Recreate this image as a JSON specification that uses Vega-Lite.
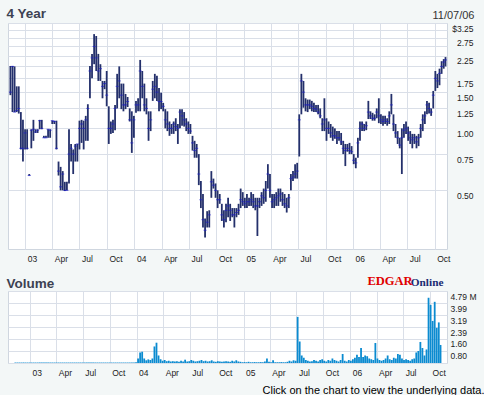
{
 "$schema": "https://vega.github.io/schema/vega-lite/v6.json",
 "background": "#f3f7f7",
 "autosize": {"type": "pad"},
 "padding": {"left": 5, "top": 6, "right": 0, "bottom": 0},
 "spacing": 10,
 "config": {
  "font": "Liberation Sans",
  "view": {"fill": "white", "stroke": "#cfd6df", "strokeWidth": 1},
  "axis": {"gridColor": "#dadfe8", "gridWidth": 1, "gridOpacity": 1, "domain": false, "ticks": false, "tickSize": 0, "labelFont": "Liberation Sans", "labelFontSize": 8.5, "labelColor": "#222222", "titleFont": "Liberation Sans"}
 },
 "datasets": {
  "px": [
   {"d":"2002-11-12","lo":1.45,"hi":2.01,"c":1.5,"v":0.03},
   {"d":"2002-11-19","lo":1.2,"hi":2.01,"c":2.0,"v":0.03},
   {"d":"2002-11-26","lo":1.2,"hi":2.0,"c":1.2,"v":0.03},
   {"d":"2002-12-03","lo":1.2,"hi":1.6,"c":1.22,"v":0.03},
   {"d":"2002-12-10","lo":1.18,"hi":1.6,"c":1.25,"v":0.03},
   {"d":"2002-12-17","lo":0.79,"hi":1.2,"c":0.8,"v":0.03},
   {"d":"2002-12-24","lo":0.69,"hi":1.1,"c":0.8,"v":0.03},
   {"d":"2002-12-31","lo":0.79,"hi":0.99,"c":0.95,"v":0.03},
   {"d":"2003-01-07","lo":0.79,"hi":0.99,"c":0.8,"v":0.03},
   {"d":"2003-01-14","lo":0.59,"hi":0.6,"c":0.59,"v":0.03},
   {"d":"2003-01-21","lo":0.8,"hi":0.99,"c":0.98,"v":0.03},
   {"d":"2003-01-28","lo":0.87,"hi":1.1,"c":0.99,"v":0.03},
   {"d":"2003-02-04","lo":0.95,"hi":0.99,"c":0.96,"v":0.03},
   {"d":"2003-02-11","lo":0.95,"hi":0.99,"c":0.98,"v":0.03},
   {"d":"2003-02-18","lo":0.99,"hi":1.1,"c":1.09,"v":0.03},
   {"d":"2003-02-25","lo":0.99,"hi":1.1,"c":1.0,"v":0.03},
   {"d":"2003-03-04","lo":0.9,"hi":0.92,"c":0.9,"v":0.03},
   {"d":"2003-03-11","lo":0.9,"hi":0.92,"c":0.9,"v":0.03},
   {"d":"2003-03-18","lo":0.9,"hi":0.99,"c":0.99,"v":0.03},
   {"d":"2003-03-25","lo":0.9,"hi":0.99,"c":0.98,"v":0.03},
   {"d":"2003-04-01","lo":1.05,"hi":1.09,"c":1.09,"v":0.03},
   {"d":"2003-04-08","lo":1.05,"hi":1.09,"c":1.08,"v":0.03},
   {"d":"2003-04-15","lo":0.79,"hi":1.09,"c":0.8,"v":0.03},
   {"d":"2003-04-22","lo":0.59,"hi":0.69,"c":0.62,"v":0.03},
   {"d":"2003-04-29","lo":0.5,"hi":0.65,"c":0.52,"v":0.03},
   {"d":"2003-05-06","lo":0.5,"hi":0.62,"c":0.6,"v":0.03},
   {"d":"2003-05-13","lo":0.496,"hi":0.55,"c":0.5,"v":0.03},
   {"d":"2003-05-20","lo":0.5,"hi":0.55,"c":0.5,"v":0.03},
   {"d":"2003-05-27","lo":0.54,"hi":0.99,"c":0.75,"v":0.03},
   {"d":"2003-06-03","lo":0.69,"hi":0.84,"c":0.8,"v":0.03},
   {"d":"2003-06-10","lo":0.6,"hi":0.79,"c":0.75,"v":0.03},
   {"d":"2003-06-17","lo":0.69,"hi":0.84,"c":0.82,"v":0.03},
   {"d":"2003-06-24","lo":0.69,"hi":0.84,"c":0.84,"v":0.03},
   {"d":"2003-07-01","lo":0.79,"hi":1.09,"c":1.0,"v":0.03},
   {"d":"2003-07-08","lo":0.85,"hi":1.1,"c":1.05,"v":0.03},
   {"d":"2003-07-15","lo":0.79,"hi":1.09,"c":1.0,"v":0.03},
   {"d":"2003-07-22","lo":0.87,"hi":1.15,"c":1.1,"v":0.03},
   {"d":"2003-07-29","lo":0.87,"hi":1.31,"c":1.25,"v":0.03},
   {"d":"2003-08-05","lo":1.4,"hi":2.01,"c":1.9,"v":0.03},
   {"d":"2003-08-12","lo":1.75,"hi":2.3,"c":2.2,"v":0.03},
   {"d":"2003-08-19","lo":2.05,"hi":2.87,"c":2.5,"v":0.03},
   {"d":"2003-08-26","lo":1.9,"hi":2.81,"c":2.2,"v":0.03},
   {"d":"2003-09-02","lo":1.7,"hi":2.3,"c":1.9,"v":0.03},
   {"d":"2003-09-09","lo":1.7,"hi":2.05,"c":1.95,"v":0.03},
   {"d":"2003-09-16","lo":1.4,"hi":1.7,"c":1.6,"v":0.03},
   {"d":"2003-09-23","lo":1.55,"hi":1.7,"c":1.65,"v":0.03},
   {"d":"2003-09-30","lo":1.28,"hi":1.9,"c":1.45,"v":0.03},
   {"d":"2003-10-07","lo":0.84,"hi":1.28,"c":1.0,"v":0.03},
   {"d":"2003-10-14","lo":0.94,"hi":1.08,"c":1.0,"v":0.03},
   {"d":"2003-10-21","lo":0.95,"hi":1.1,"c":1.05,"v":0.03},
   {"d":"2003-10-28","lo":0.98,"hi":1.3,"c":1.25,"v":0.03},
   {"d":"2003-11-04","lo":1.25,"hi":1.84,"c":1.6,"v":0.03},
   {"d":"2003-11-11","lo":1.4,"hi":2.0,"c":1.7,"v":0.03},
   {"d":"2003-11-18","lo":1.24,"hi":1.65,"c":1.45,"v":0.03},
   {"d":"2003-11-25","lo":1.21,"hi":1.65,"c":1.3,"v":0.03},
   {"d":"2003-12-02","lo":1.24,"hi":1.47,"c":1.3,"v":0.03},
   {"d":"2003-12-09","lo":1.27,"hi":1.42,"c":1.35,"v":0.03},
   {"d":"2003-12-16","lo":1.08,"hi":1.25,"c":1.1,"v":0.03},
   {"d":"2003-12-23","lo":0.76,"hi":1.21,"c":0.85,"v":0.03},
   {"d":"2003-12-30","lo":0.9,"hi":1.15,"c":1.1,"v":0.05},
   {"d":"2004-01-06","lo":1.19,"hi":1.36,"c":1.3,"v":0.3},
   {"d":"2004-01-13","lo":1.21,"hi":1.4,"c":1.3,"v":0.7},
   {"d":"2004-01-20","lo":1.21,"hi":2.15,"c":1.9,"v":0.75},
   {"d":"2004-01-27","lo":1.4,"hi":1.9,"c":1.6,"v":0.3},
   {"d":"2004-02-03","lo":1.21,"hi":1.65,"c":1.3,"v":0.18},
   {"d":"2004-02-10","lo":1.17,"hi":1.4,"c":1.25,"v":0.24},
   {"d":"2004-02-17","lo":0.87,"hi":1.21,"c":1.0,"v":0.2},
   {"d":"2004-02-24","lo":0.97,"hi":1.21,"c":1.1,"v":0.3},
   {"d":"2004-03-02","lo":1.36,"hi":1.7,"c":1.55,"v":1.1},
   {"d":"2004-03-09","lo":1.4,"hi":1.84,"c":1.6,"v":1.35},
   {"d":"2004-03-16","lo":1.36,"hi":1.8,"c":1.5,"v":0.5},
   {"d":"2004-03-23","lo":1.21,"hi":1.57,"c":1.35,"v":0.25},
   {"d":"2004-03-30","lo":1.24,"hi":1.49,"c":1.35,"v":0.15},
   {"d":"2004-04-06","lo":1.21,"hi":1.33,"c":1.28,"v":0.2},
   {"d":"2004-04-13","lo":1.0,"hi":1.24,"c":1.1,"v":0.12},
   {"d":"2004-04-20","lo":0.97,"hi":1.21,"c":1.05,"v":0.15},
   {"d":"2004-04-27","lo":0.92,"hi":1.08,"c":1.0,"v":0.1},
   {"d":"2004-05-04","lo":0.94,"hi":1.05,"c":1.0,"v":0.12},
   {"d":"2004-05-11","lo":0.94,"hi":1.08,"c":1.05,"v":0.1},
   {"d":"2004-05-18","lo":0.97,"hi":1.12,"c":1.02,"v":0.12},
   {"d":"2004-05-25","lo":0.84,"hi":1.05,"c":1.0,"v":0.08},
   {"d":"2004-06-01","lo":1.0,"hi":1.24,"c":1.2,"v":0.15},
   {"d":"2004-06-08","lo":1.03,"hi":1.24,"c":1.15,"v":0.1},
   {"d":"2004-06-15","lo":1.02,"hi":1.2,"c":1.1,"v":0.22},
   {"d":"2004-06-22","lo":0.97,"hi":1.12,"c":1.05,"v":0.1},
   {"d":"2004-06-29","lo":0.94,"hi":1.08,"c":1.0,"v":0.12},
   {"d":"2004-07-06","lo":0.94,"hi":1.05,"c":0.97,"v":0.2},
   {"d":"2004-07-13","lo":0.78,"hi":0.92,"c":0.85,"v":0.15},
   {"d":"2004-07-20","lo":0.72,"hi":0.87,"c":0.78,"v":0.1},
   {"d":"2004-07-27","lo":0.72,"hi":0.84,"c":0.8,"v":0.12},
   {"d":"2004-08-03","lo":0.53,"hi":0.75,"c":0.6,"v":0.15},
   {"d":"2004-08-10","lo":0.41,"hi":0.555,"c":0.45,"v":0.2},
   {"d":"2004-08-17","lo":0.33,"hi":0.48,"c":0.36,"v":0.12},
   {"d":"2004-08-24","lo":0.295,"hi":0.365,"c":0.32,"v":0.15},
   {"d":"2004-08-31","lo":0.33,"hi":0.396,"c":0.35,"v":0.1},
   {"d":"2004-09-07","lo":0.33,"hi":0.4,"c":0.38,"v":0.12},
   {"d":"2004-09-14","lo":0.46,"hi":0.62,"c":0.55,"v":0.18},
   {"d":"2004-09-21","lo":0.51,"hi":0.57,"c":0.53,"v":0.1},
   {"d":"2004-09-28","lo":0.46,"hi":0.54,"c":0.5,"v":0.08},
   {"d":"2004-10-05","lo":0.41,"hi":0.5,"c":0.45,"v":0.12},
   {"d":"2004-10-12","lo":0.43,"hi":0.48,"c":0.45,"v":0.1},
   {"d":"2004-10-19","lo":0.355,"hi":0.43,"c":0.38,"v":0.08},
   {"d":"2004-10-26","lo":0.33,"hi":0.4,"c":0.36,"v":0.1},
   {"d":"2004-11-02","lo":0.35,"hi":0.43,"c":0.4,"v":0.12},
   {"d":"2004-11-09","lo":0.37,"hi":0.46,"c":0.42,"v":0.1},
   {"d":"2004-11-16","lo":0.355,"hi":0.43,"c":0.4,"v":0.08},
   {"d":"2004-11-23","lo":0.37,"hi":0.41,"c":0.38,"v":0.15},
   {"d":"2004-11-30","lo":0.33,"hi":0.41,"c":0.38,"v":0.1},
   {"d":"2004-12-07","lo":0.37,"hi":0.41,"c":0.39,"v":0.18},
   {"d":"2004-12-14","lo":0.38,"hi":0.43,"c":0.4,"v":0.1},
   {"d":"2004-12-21","lo":0.41,"hi":0.51,"c":0.45,"v":0.08},
   {"d":"2004-12-28","lo":0.42,"hi":0.49,"c":0.44,"v":0.05},
   {"d":"2005-01-04","lo":0.41,"hi":0.46,"c":0.43,"v":0.06},
   {"d":"2005-01-11","lo":0.41,"hi":0.48,"c":0.44,"v":0.05},
   {"d":"2005-01-18","lo":0.42,"hi":0.46,"c":0.44,"v":0.08},
   {"d":"2005-01-25","lo":0.42,"hi":0.49,"c":0.45,"v":0.05},
   {"d":"2005-02-01","lo":0.41,"hi":0.48,"c":0.44,"v":0.05},
   {"d":"2005-02-08","lo":0.4,"hi":0.46,"c":0.42,"v":0.06},
   {"d":"2005-02-15","lo":0.3,"hi":0.46,"c":0.42,"v":0.05},
   {"d":"2005-02-22","lo":0.41,"hi":0.46,"c":0.44,"v":0.05},
   {"d":"2005-03-01","lo":0.42,"hi":0.49,"c":0.47,"v":0.06},
   {"d":"2005-03-08","lo":0.43,"hi":0.51,"c":0.46,"v":0.05},
   {"d":"2005-03-15","lo":0.44,"hi":0.555,"c":0.5,"v":0.1},
   {"d":"2005-03-22","lo":0.51,"hi":0.67,"c":0.6,"v":0.3},
   {"d":"2005-03-29","lo":0.46,"hi":0.6,"c":0.5,"v":0.08},
   {"d":"2005-04-05","lo":0.41,"hi":0.48,"c":0.44,"v":0.05},
   {"d":"2005-04-12","lo":0.41,"hi":0.48,"c":0.45,"v":0.18},
   {"d":"2005-04-19","lo":0.42,"hi":0.49,"c":0.46,"v":0.05},
   {"d":"2005-04-26","lo":0.42,"hi":0.51,"c":0.47,"v":0.05},
   {"d":"2005-05-03","lo":0.44,"hi":0.51,"c":0.48,"v":0.05},
   {"d":"2005-05-10","lo":0.42,"hi":0.49,"c":0.45,"v":0.06},
   {"d":"2005-05-17","lo":0.41,"hi":0.48,"c":0.43,"v":0.05},
   {"d":"2005-05-24","lo":0.39,"hi":0.46,"c":0.42,"v":0.05},
   {"d":"2005-05-31","lo":0.41,"hi":0.48,"c":0.46,"v":0.08},
   {"d":"2005-06-07","lo":0.5,"hi":0.6,"c":0.57,"v":0.15},
   {"d":"2005-06-14","lo":0.555,"hi":0.62,"c":0.58,"v":0.1},
   {"d":"2005-06-21","lo":0.57,"hi":0.67,"c":0.6,"v":0.18},
   {"d":"2005-06-28","lo":0.57,"hi":0.68,"c":0.62,"v":0.15},
   {"d":"2005-07-05","lo":0.73,"hi":1.17,"c":1.1,"v":3.07},
   {"d":"2005-07-12","lo":1.17,"hi":1.84,"c":1.7,"v":1.43},
   {"d":"2005-07-19","lo":1.26,"hi":1.7,"c":1.5,"v":0.5},
   {"d":"2005-07-26","lo":1.21,"hi":1.4,"c":1.3,"v":0.35},
   {"d":"2005-08-02","lo":1.2,"hi":1.38,"c":1.3,"v":0.2},
   {"d":"2005-08-09","lo":1.24,"hi":1.38,"c":1.3,"v":0.15},
   {"d":"2005-08-16","lo":1.21,"hi":1.36,"c":1.28,"v":0.1},
   {"d":"2005-08-23","lo":1.2,"hi":1.33,"c":1.25,"v":0.12},
   {"d":"2005-08-30","lo":1.2,"hi":1.3,"c":1.24,"v":0.2},
   {"d":"2005-09-06","lo":1.17,"hi":1.3,"c":1.2,"v":0.15},
   {"d":"2005-09-13","lo":1.12,"hi":1.25,"c":1.15,"v":0.1},
   {"d":"2005-09-20","lo":0.97,"hi":1.12,"c":1.05,"v":0.2},
   {"d":"2005-09-27","lo":0.97,"hi":1.4,"c":1.1,"v":0.25},
   {"d":"2005-10-04","lo":0.87,"hi":1.12,"c":1.0,"v":0.15},
   {"d":"2005-10-11","lo":0.94,"hi":1.08,"c":1.0,"v":0.1},
   {"d":"2005-10-18","lo":0.9,"hi":1.05,"c":0.95,"v":0.2},
   {"d":"2005-10-25","lo":0.87,"hi":1.02,"c":0.92,"v":0.15},
   {"d":"2005-11-01","lo":0.89,"hi":1.0,"c":0.92,"v":0.3},
   {"d":"2005-11-08","lo":0.84,"hi":0.97,"c":0.9,"v":0.2},
   {"d":"2005-11-15","lo":0.87,"hi":0.97,"c":0.9,"v":0.15},
   {"d":"2005-11-22","lo":0.83,"hi":0.95,"c":0.86,"v":0.1},
   {"d":"2005-11-29","lo":0.75,"hi":0.87,"c":0.8,"v":0.2},
   {"d":"2005-12-06","lo":0.656,"hi":0.84,"c":0.78,"v":0.6},
   {"d":"2005-12-13","lo":0.77,"hi":0.84,"c":0.8,"v":0.15},
   {"d":"2005-12-20","lo":0.75,"hi":0.85,"c":0.78,"v":0.1},
   {"d":"2005-12-27","lo":0.75,"hi":0.82,"c":0.77,"v":0.2},
   {"d":"2006-01-03","lo":0.67,"hi":0.75,"c":0.7,"v":0.15},
   {"d":"2006-01-10","lo":0.64,"hi":0.72,"c":0.68,"v":0.25},
   {"d":"2006-01-17","lo":0.72,"hi":0.9,"c":0.85,"v":0.35},
   {"d":"2006-01-24","lo":0.87,"hi":1.08,"c":1.0,"v":0.55},
   {"d":"2006-01-31","lo":0.97,"hi":1.08,"c":1.05,"v":0.4},
   {"d":"2006-02-07","lo":0.97,"hi":1.05,"c":1.0,"v":1.0},
   {"d":"2006-02-14","lo":0.98,"hi":1.08,"c":1.03,"v":0.4},
   {"d":"2006-02-21","lo":1.11,"hi":1.36,"c":1.2,"v":0.5},
   {"d":"2006-02-28","lo":1.11,"hi":1.21,"c":1.15,"v":0.45},
   {"d":"2006-03-07","lo":1.09,"hi":1.19,"c":1.12,"v":0.3},
   {"d":"2006-03-14","lo":1.09,"hi":1.17,"c":1.12,"v":0.25},
   {"d":"2006-03-21","lo":1.12,"hi":1.25,"c":1.2,"v":0.2},
   {"d":"2006-03-28","lo":1.06,"hi":1.4,"c":1.15,"v":1.33},
   {"d":"2006-04-04","lo":1.05,"hi":1.17,"c":1.1,"v":0.3},
   {"d":"2006-04-11","lo":1.03,"hi":1.15,"c":1.08,"v":0.2},
   {"d":"2006-04-18","lo":1.05,"hi":1.15,"c":1.1,"v":0.15},
   {"d":"2006-04-25","lo":1.03,"hi":1.12,"c":1.08,"v":0.2},
   {"d":"2006-05-02","lo":1.05,"hi":1.21,"c":1.15,"v":0.3},
   {"d":"2006-05-09","lo":1.17,"hi":1.47,"c":1.3,"v":0.5},
   {"d":"2006-05-16","lo":0.97,"hi":1.17,"c":1.05,"v":0.25},
   {"d":"2006-05-23","lo":0.9,"hi":1.05,"c":0.95,"v":0.2},
   {"d":"2006-05-30","lo":0.84,"hi":0.97,"c":0.9,"v":0.35},
   {"d":"2006-06-06","lo":0.8,"hi":0.9,"c":0.83,"v":0.3},
   {"d":"2006-06-13","lo":0.6,"hi":1.0,"c":0.9,"v":0.6},
   {"d":"2006-06-20","lo":0.9,"hi":1.05,"c":0.98,"v":0.55},
   {"d":"2006-06-27","lo":0.94,"hi":1.08,"c":1.0,"v":0.3},
   {"d":"2006-07-04","lo":0.87,"hi":1.02,"c":0.95,"v":0.2},
   {"d":"2006-07-11","lo":0.84,"hi":0.97,"c":0.9,"v":0.25},
   {"d":"2006-07-18","lo":0.8,"hi":0.94,"c":0.88,"v":0.2},
   {"d":"2006-07-25","lo":0.84,"hi":0.94,"c":0.9,"v":0.15},
   {"d":"2006-08-01","lo":0.8,"hi":0.92,"c":0.86,"v":0.25},
   {"d":"2006-08-08","lo":0.82,"hi":0.94,"c":0.9,"v":0.3},
   {"d":"2006-08-15","lo":0.9,"hi":1.05,"c":1.0,"v":0.7},
   {"d":"2006-08-22","lo":0.97,"hi":1.17,"c":1.1,"v":0.8},
   {"d":"2006-08-29","lo":1.05,"hi":1.21,"c":1.15,"v":1.4},
   {"d":"2006-09-05","lo":1.17,"hi":1.36,"c":1.3,"v":1.0},
   {"d":"2006-09-12","lo":1.18,"hi":1.33,"c":1.25,"v":0.5},
   {"d":"2006-09-19","lo":1.15,"hi":1.25,"c":1.2,"v":0.9},
   {"d":"2006-09-26","lo":1.25,"hi":1.52,"c":1.45,"v":4.34},
   {"d":"2006-10-03","lo":1.52,"hi":1.9,"c":1.75,"v":3.87},
   {"d":"2006-10-10","lo":1.57,"hi":1.84,"c":1.7,"v":2.8},
   {"d":"2006-10-17","lo":1.62,"hi":1.95,"c":1.85,"v":4.07},
   {"d":"2006-10-24","lo":1.84,"hi":2.12,"c":2.0,"v":2.34},
   {"d":"2006-10-31","lo":1.95,"hi":2.17,"c":2.1,"v":2.7},
   {"d":"2006-11-06","lo":2.0,"hi":2.22,"c":2.15,"v":1.2}
  ]
 },
 "vconcat": [
  {
   "width": 439,
   "height": 226,
   "data": {"name": "px"},
   "encoding": {
    "x": {"field": "d", "type": "temporal",
     "scale": {"type": "utc", "domain": [{"year": 2002, "month": 11, "date": 4, "utc": true}, {"year": 2006, "month": 11, "date": 11, "utc": true}]},
     "axis": {"grid": true, "tickCount": {"interval": "month", "step": 3},
      "labelExpr": "utcmonth(datum.value) == 0 ? utcFormat(datum.value, '%y') : utcFormat(datum.value, '%b')",
      "labelAlign": "left", "labelOffset": 2, "labelPadding": 5, "labelBaseline": "top", "labelFlush": false, "labelOverlap": false,
      "title": "4 Year", "titleX": -2, "titleY": -235.3, "titleAlign": "left", "titleBaseline": "middle",
      "titleFontSize": 13.5, "titleFontWeight": "bold", "titleColor": "#3d4252"}
    }
   },
   "layer": [
    {
     "mark": {"type": "rule", "color": "#24306b", "strokeWidth": 1.8},
     "encoding": {
      "y": {"field": "lo", "type": "quantitative",
       "scale": {"type": "log", "domain": [0.2594, 3.25], "nice": false, "zero": false},
       "axis": {"orient": "right", "grid": true, "values": [0.5, 0.75, 1, 1.25, 1.5, 1.75, 2, 2.25, 2.5, 2.75, 3, 3.25],
        "labelExpr": "datum.value == 3.25 ? '$3.25' : (datum.value == 2 || datum.value == 2.5 || datum.value == 3) ? '' : format(datum.value, '.2f')",
        "labelAlign": "right", "labelPadding": 26, "labelBaseline": "middle", "labelOffset": 5, "labelOverlap": false, "labelFlush": false,
        "title": "11/07/06", "titleAngle": 0, "titleX": 27, "titleY": -8, "titleAlign": "right", "titleBaseline": "middle",
        "titleFontSize": 11, "titleFontWeight": "normal", "titleColor": "#333333"}},
      "y2": {"field": "hi"}
     }
    },
    {
     "mark": {"type": "tick", "orient": "horizontal", "color": "#1c1ccc", "size": 3, "thickness": 1},
     "encoding": {
      "y": {"field": "c", "type": "quantitative",
       "scale": {"type": "log", "domain": [0.2594, 3.25], "nice": false, "zero": false},
       "axis": {"orient": "right", "grid": true, "values": [0.5, 0.75, 1, 1.25, 1.5, 1.75, 2, 2.25, 2.5, 2.75, 3, 3.25],
        "labelExpr": "datum.value == 3.25 ? '$3.25' : (datum.value == 2 || datum.value == 2.5 || datum.value == 3) ? '' : format(datum.value, '.2f')",
        "labelAlign": "right", "labelPadding": 26, "labelBaseline": "middle", "labelOffset": 5, "labelOverlap": false, "labelFlush": false,
        "title": "11/07/06", "titleAngle": 0, "titleX": 27, "titleY": -8, "titleAlign": "right", "titleBaseline": "middle",
        "titleFontSize": 11, "titleFontWeight": "normal", "titleColor": "#333333"}}
     }
    }
   ]
  },
  {
   "width": 439,
   "height": 72,
   "data": {"name": "px"},
   "layer": [
    {
     "mark": {"type": "bar", "color": "#0b8bd0", "size": 1.8},
     "encoding": {
      "x": {"field": "d", "type": "temporal",
       "scale": {"type": "utc", "domain": [{"year": 2002, "month": 11, "date": 4, "utc": true}, {"year": 2006, "month": 11, "date": 11, "utc": true}]},
       "axis": {"orient": "bottom", "grid": true, "tickCount": {"interval": "month", "step": 3},
        "labelExpr": "utcmonth(datum.value) == 0 ? utcFormat(datum.value, '%y') : utcFormat(datum.value, '%b')",
        "labelAlign": "left", "labelOffset": 2, "labelPadding": 5, "labelBaseline": "top", "labelFlush": false, "labelOverlap": false,
        "title": "Click on the chart to view the underlying data.", "titleX": 476, "titleY": 27, "titleAlign": "right", "titleBaseline": "middle",
        "titleFontSize": 11, "titleFontWeight": "normal", "titleColor": "#000000"}},
      "y": {"field": "v", "type": "quantitative",
       "scale": {"domain": [0, 4.79], "nice": false},
       "axis": {"orient": "right", "grid": true, "values": [0, 0.8, 1.6, 2.39, 3.19, 3.99, 4.79],
        "labelExpr": "datum.value == 0 ? '' : datum.value == 4.79 ? '4.79 M' : format(datum.value, '.2f')",
        "labelAlign": "left", "labelPadding": 3, "labelBaseline": "middle", "labelOffset": 5, "labelOverlap": false, "labelFlush": false,
        "title": "EDGAR", "titleAngle": 0, "titleX": -80, "titleY": -10.7, "titleAlign": "left", "titleBaseline": "middle",
        "titleFont": "Liberation Serif", "titleFontSize": 12.5, "titleFontWeight": "bold", "titleColor": "#e00000"}}
     }
    },
    {
     "mark": {"type": "bar", "opacity": 0, "size": 1},
     "encoding": {
      "x": {"field": "d", "type": "temporal",
       "scale": {"type": "utc", "domain": [{"year": 2002, "month": 11, "date": 4, "utc": true}, {"year": 2006, "month": 11, "date": 11, "utc": true}]},
       "axis": {"orient": "top", "grid": false, "labels": false,
        "title": "Online", "titleX": 402.3, "titleY": -9, "titleAlign": "left", "titleBaseline": "middle",
        "titleFont": "Liberation Serif", "titleFontSize": 11.3, "titleFontWeight": "bold", "titleColor": "#1b2b72"}},
      "y": {"field": "v", "type": "quantitative",
       "scale": {"domain": [0, 4.79], "nice": false},
       "axis": {"orient": "left", "grid": false, "labels": false,
        "title": "Volume", "titleAngle": 0, "titleX": -2, "titleY": -8, "titleAlign": "left", "titleBaseline": "middle",
        "titleFontSize": 13.5, "titleFontWeight": "bold", "titleColor": "#3d4252"}}
     }
    }
   ],
   "resolve": {"axis": {"x": "independent", "y": "independent"}}
  }
 ]
}
